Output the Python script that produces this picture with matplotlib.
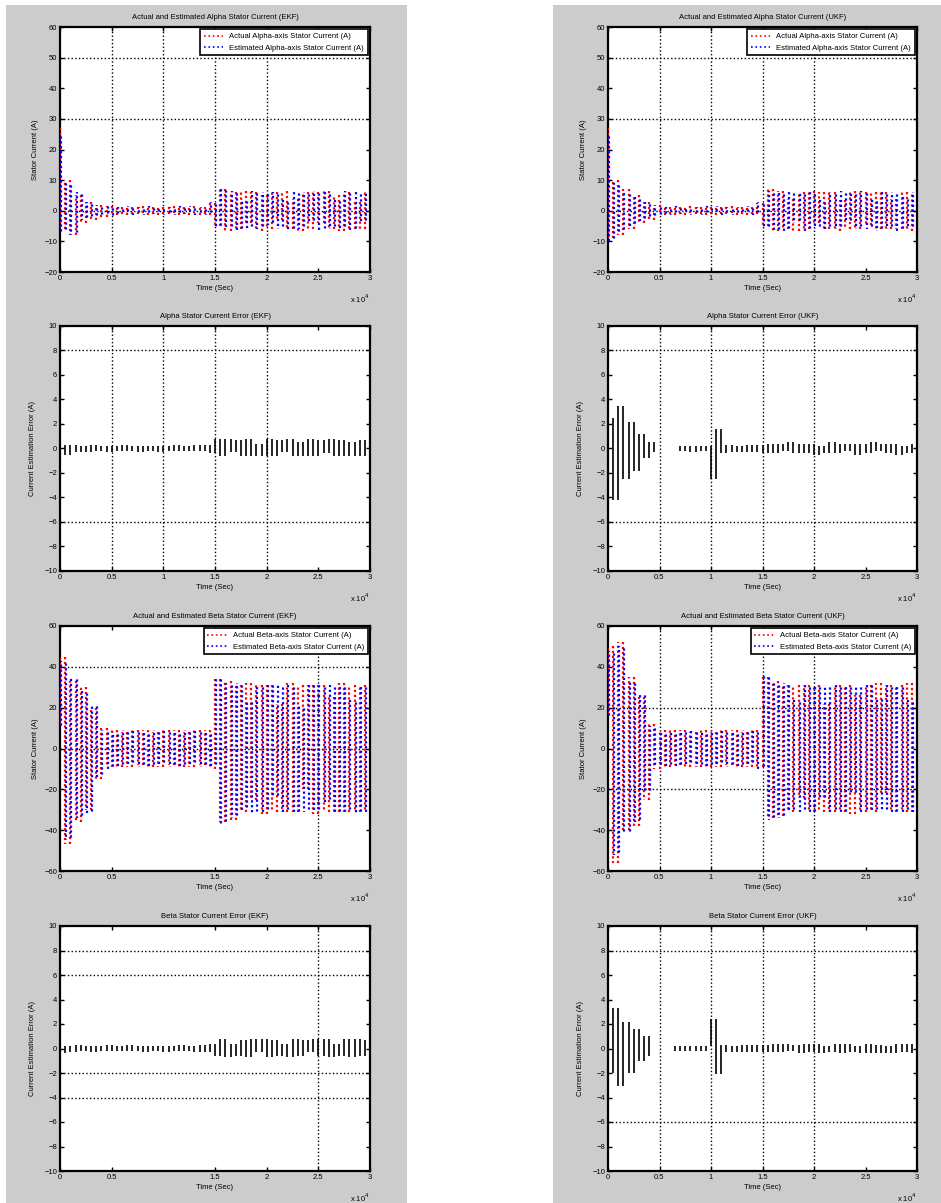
import numpy as np
import matplotlib
matplotlib.use("Agg")
import matplotlib.pyplot as plt
from matplotlib.patches import Rectangle
from matplotlib.lines import Line2D

plt.rcParams['font.family'] = ['Liberation Sans', 'DejaVu Sans']
plt.rcParams['font.size'] = 5.5

# time axis (x 10^4 samples), one point per half cycle
t = np.linspace(0, 3, 61)

# alpha axis current, EKF (A)
ia_ekf_act = [27, -6, 10, -8, 5, -4, 3, -3, 2, -2, 1.5, -1.5, 1.2, -1.4, 1.3, -1.2, 1.4, -1.3, 1.2, -1.5,
              1.3, -1.2, 1.5, -1.4, 1.2, -1.3, 1.6, -1.4, 1.3, -1.5, 2.5, -5, 7, -6.5, 6, -6, 6.5, -4, 6, -6.5,
              5, -6, 6, -3, 6.5, -6, 4, -6.5, 6, -6, 6, -4, 6.5, -6, 5, -6.5, 6, -6, 3, -6, 6]
ia_ekf_est = [25, -7, 9, -8, 6, -3, 3, -2.5, 2, -1.8, 1.4, -1.6, 1.3, -1.2, 1.5, -1.3, 1.2, -1.4, 1.5, -1.2,
              1.3, -1.5, 1.2, -1.3, 1.4, -1.2, 1.5, -1.3, 1.2, -1.4, 3, -5.5, 7.5, -6, 6.5, -6.5, 4, -6, 6.5, -6,
              6, -4.5, 6, -6, 3.5, -6.5, 6.5, -6, 6, -4, 6.5, -6.5, 6, -6, 4, -6, 6.5, -6.5, 6, -4, 6]
# alpha axis current, UKF (A)
ia_ukf_act = [27, -9, 10, -8, 7, -6, 5, -4, 3, -3, 2, -1.5, 1.3, -1.4, 1.2, -1.3, 1.4, -1.2, 1.3, -1.5,
              1.2, -1.4, 1.3, -1.2, 1.5, -1.3, 1.2, -1.4, 1.3, -1.2, 2.5, -5, 7, -6.5, 6.5, -6, 4, -6.5, 6, -6,
              6.5, -4, 6, -6, 6, -6.5, 3.5, -6, 6.5, -6, 6, -4.5, 6, -6, 6, -6, 4, -6, 6, -6.5, 6]
ia_ukf_est = [25, -10, 9, -7, 6, -5, 4.5, -3.5, 3, -2.5, 1.8, -1.6, 1.2, -1.3, 1.4, -1.2, 1.3, -1.4, 1.2, -1.3,
              1.5, -1.2, 1.4, -1.3, 1.2, -1.5, 1.3, -1.2, 1.4, -1.3, 3, -6, 6.5, -7, 6, -6.5, 6.5, -4, 6, -6.5,
              6, -6, 3.5, -6, 6, -6, 6.5, -4, 6, -6, 6.5, -6, 4, -6.5, 6, -6, 6, -6.5, 4.5, -6, 6]

# beta axis current, EKF (A)
ib_ekf_act = [12, 45, -47, 33, -36, 30, -30, 20, -15, 10, -9, 9, -9, 8, -9, 9, -8, 9, -9, 8,
              -9, 9, -8, 9, -9, 8, -9, 9, -8, 9, -10, 34, -36, 33, -35, 31, -31, 32, -25, 31,
              -32, 31, -31, 22, -31, 32, -31, 31, -20, 31, -32, 31, -31, 25, -31, 32, -31, 31, -31, 31, -30]
ib_ekf_est = [10, 43, -45, 35, -34, 28, -32, 22, -14, 9, -10, 8, -9, 9, -8, 9, -9, 8, -9, 9,
              -8, 9, -9, 8, -9, 9, -8, 9, -9, 8, -9, 35, -37, 32, -34, 32, -30, 24, -32, 31,
              -31, 32, -24, 31, -31, 31, -32, 21, -31, 32, -31, 31, -26, 31, -32, 31, -31, 24, -32, 31, -31]
# beta axis current, UKF (A)
ib_ukf_act = [17, 50, -56, 52, -40, 35, -38, 25, -25, 12, -10, 9, -9, 9, -8, 9, -9, 8, -9, 9,
              -9, 8, -9, 9, -8, 9, -9, 8, -9, 9, -9, 35, -34, 33, -33, 31, -31, 31, -24, 31,
              -31, 31, -31, 22, -31, 31, -31, 31, -32, 26, -31, 31, -31, 32, -22, 31, -31, 31, -31, 32, -31]
ib_ukf_est = [15, 48, -52, 50, -42, 33, -36, 27, -22, 11, -9, 8, -9, 8, -9, 9, -8, 9, -9, 8,
              -9, 9, -8, 9, -9, 8, -9, 9, -8, 9, -10, 36, -35, 32, -34, 32, -31, 24, -31, 31,
              -32, 31, -25, 31, -31, 31, -32, 31, -23, 31, -31, 32, -31, 25, -31, 31, -32, 31, -31, 24, -31]

# estimation errors (A), nan where nothing is drawn
ea_ekf_err = [-3.0, 0.3, -0.5, 0.3, -0.3, 0.2, -0.3, 0.3, -0.2, 0.2, -0.3, 0.2, -0.2, 0.3, -0.2, 0.2, -0.3, 0.2, -0.2, 0.2,
              -0.3, 0.2, -0.2, 0.3, -0.2, 0.2, -0.2, 0.3, -0.2, 0.3, -0.4, 0.8, -0.6, 0.8, -0.3, 0.7, -0.6, 0.8, -0.6, 0.4,
              -0.6, 0.8, -0.6, 0.7, -0.3, 0.8, -0.6, 0.5, -0.6, 0.8, -0.6, 0.7, -0.4, 0.8, -0.6, 0.7, -0.6, 0.5, -0.6, 0.7, -0.6]
ea_ukf_err = [-1.5, 2.5, -4.2, 3.5, -2.5, 2.2, -1.8, 1.2, -0.8, 0.5, -0.3, np.nan, np.nan, np.nan, 0.2, -0.2, 0.2, -0.3, 0.2, -0.2,
              0.2, -2.5, 1.6, -0.4, 0.3, -0.3, 0.2, -0.3, 0.3, -0.3, 0.3, -0.4, 0.4, -0.4, 0.4, -0.2, 0.5, -0.4, 0.4, -0.4,
              0.4, -0.5, 0.2, -0.4, 0.5, -0.4, 0.4, -0.2, 0.4, -0.5, 0.4, -0.4, 0.5, -0.2, 0.4, -0.4, 0.4, -0.5, 0.2, -0.4, 0.4]
eb_ekf_err = [0.3, -0.4, 0.2, -0.3, 0.3, -0.2, 0.2, -0.3, 0.2, -0.2, 0.3, -0.2, 0.2, -0.2, 0.3, -0.2, 0.2, -0.3, 0.2, -0.2,
              0.2, -0.3, 0.2, -0.2, 0.3, -0.2, 0.2, -0.3, 0.3, -0.3, 0.4, -0.6, 0.8, -0.7, 0.4, -0.6, 0.7, -0.7, 0.8, -0.3,
              0.8, -0.7, 0.7, -0.6, 0.4, -0.7, 0.8, -0.6, 0.7, -0.3, 0.8, -0.6, 0.8, -0.7, 0.4, -0.6, 0.8, -0.7, 0.8, -0.6, 0.7]
eb_ukf_err = [-1.3, -2.0, 3.3, -3.1, 2.2, -2.0, 1.6, -1.0, 1.0, -0.6, np.nan, np.nan, np.nan, -0.2, 0.2, -0.2, 0.2, -0.2, 0.2, -0.2,
              0.2, 2.4, -2.1, 0.3, -0.3, 0.2, -0.3, 0.3, -0.3, 0.3, -0.3, 0.3, -0.3, 0.4, -0.3, 0.4, -0.2, 0.3, -0.4, 0.4,
              -0.3, 0.4, -0.4, 0.2, -0.3, 0.4, -0.4, 0.4, -0.3, 0.2, -0.4, 0.4, -0.4, 0.3, -0.4, 0.2, -0.4, 0.4, -0.3, 0.4, -0.4]

# axis ticks
x_ticks = [0, 0.5, 1, 1.5, 2, 2.5, 3]
x_labels = ['0', '0.5', '1', '1.5', '2', '2.5', '3']
y_ticks_alpha = list(range(-20, 61, 10))
y_ticks_beta = list(range(-60, 61, 20))
y_ticks_err = list(range(-10, 11, 2))

W, H = 941, 1203
fig = plt.figure(figsize=(W / 100, H / 100), dpi=100)

# grey MATLAB figure backgrounds for the two columns
fig.patches.append(Rectangle((6 / W, 0), 401 / W, 1 - 5 / H, transform=fig.transFigure,
                             facecolor='#cccccc', edgecolor='none', zorder=-10))
fig.patches.append(Rectangle((553 / W, 0), 388 / W, 1 - 5 / H, transform=fig.transFigure,
                             facecolor='#cccccc', edgecolor='none', zorder=-10))

col_left = [60 / W, 608 / W]
col_width = [310 / W, 309 / W]
row_bottom = [272, 571, 871, 1171]
ax_height = 245 / H


def make_axes(row, col):
    ax = fig.add_axes([col_left[col], 1 - row_bottom[row] / H, col_width[col], ax_height])
    ax.set_facecolor('white')
    for sp in ax.spines.values():
        sp.set_linewidth(1.6)
    ax.tick_params(direction='in', length=3, width=1, top=True, right=True, pad=2, labelsize=5.5)
    ax.set_xlim(0, 3)
    ax.text(1.0, -0.085, r'x 10$^4$', transform=ax.transAxes, ha='right', va='top', fontsize=5.5)
    ax.set_xlabel('Time (Sec)', labelpad=2)
    return ax


def draw_grid(ax, hlines, vlines):
    for y in hlines:
        ax.axhline(y, color='black', linestyle=':', linewidth=1, zorder=1)
    for x in vlines:
        ax.axvline(x, color='black', linestyle=':', linewidth=1, zorder=1)


def draw_swings(ax, x, vals, **kw):
    # each half cycle swing shows up as a near vertical stroke
    v = np.asarray(vals, dtype=float)
    ok = ~np.isnan(v[:-1]) & ~np.isnan(v[1:])
    ax.vlines(np.asarray(x)[:-1][ok], v[:-1][ok], v[1:][ok], **kw)


# current panels: (row, col, actual, estimate, title, axis name, yticks, grid h, grid v, xticks)
current_panels = [
    (0, 0, ia_ekf_act, ia_ekf_est, 'Actual and Estimated Alpha Stator Current (EKF)', 'Alpha',
     y_ticks_alpha, [50, 30, 0], [0.5, 1, 1.5, 2], x_ticks),
    (0, 1, ia_ukf_act, ia_ukf_est, 'Actual and Estimated Alpha Stator Current (UKF)', 'Alpha',
     y_ticks_alpha, [50, 30, 0], [0.5, 1, 1.5, 2], x_ticks),
    (2, 0, ib_ekf_act, ib_ekf_est, 'Actual and Estimated Beta Stator Current (EKF)', 'Beta',
     y_ticks_beta, [40, 0], [2.5], [0, 0.5, 1.5, 2, 2.5, 3]),
    (2, 1, ib_ukf_act, ib_ukf_est, 'Actual and Estimated Beta Stator Current (UKF)', 'Beta',
     y_ticks_beta, [20, -20], [0.5, 1, 1.5, 2], x_ticks),
]

for row, col, act, est, title, name, yt, gh, gv, xt in current_panels:
    ax = make_axes(row, col)
    draw_grid(ax, gh, gv)
    draw_swings(ax, t, act, colors='red', linestyles=[(0, (1, 1.2))], linewidth=1.6, zorder=3)
    draw_swings(ax, t + 0.01, est, colors='blue', linestyles=[(1.1, (1, 1.2))], linewidth=1.6, zorder=4)
    ax.set_ylim(yt[0], yt[-1])
    ax.set_yticks(yt)
    ax.set_xticks(xt)
    ax.set_xticklabels([x_labels[x_ticks.index(v)] for v in xt])
    ax.set_title(title, fontsize=5.5, pad=6)
    ax.set_ylabel('Stator Current (A)', labelpad=4)
    handles = [Line2D([], [], color='red', linestyle=':', linewidth=1.2),
               Line2D([], [], color='blue', linestyle=':', linewidth=1.2)]
    leg = ax.legend(handles, ['Actual %s-axis Stator Current (A)' % name,
                              'Estimated %s-axis Stator Current (A)' % name],
                    loc='upper right', fontsize=5.5, fancybox=False, framealpha=1,
                    edgecolor='black', borderaxespad=0.3, handlelength=2.5, borderpad=0.5)
    leg.get_frame().set_linewidth(1.2)

# error panels
error_panels = [
    (1, 0, ea_ekf_err, 'Alpha Stator Current Error (EKF)', [8, -6], [0.5, 1, 1.5, 2], x_ticks),
    (1, 1, ea_ukf_err, 'Alpha Stator Current Error (UKF)', [8, -6], [0.5, 1, 1.5, 2], x_ticks),
    (3, 0, eb_ekf_err, 'Beta Stator Current Error (EKF)', [8, 6, -2, -4], [2.5], [0, 0.5, 1.5, 2, 2.5, 3]),
    (3, 1, eb_ukf_err, 'Beta Stator Current Error (UKF)', [8, -6], [0.5, 1, 1.5, 2], x_ticks),
]

for row, col, err, title, gh, gv, xt in error_panels:
    ax = make_axes(row, col)
    draw_grid(ax, gh, gv)
    draw_swings(ax, t, err, colors='black', linestyles='solid', linewidth=1.2, zorder=3)
    ax.set_ylim(-10, 10)
    ax.set_yticks(y_ticks_err)
    ax.set_xticks(xt)
    ax.set_xticklabels([x_labels[x_ticks.index(v)] for v in xt])
    ax.set_title(title, fontsize=5.5, pad=6)
    ax.set_ylabel('Current Estimation Error (A)', labelpad=6)

fig.savefig('out.png', dpi=100, facecolor='white')
